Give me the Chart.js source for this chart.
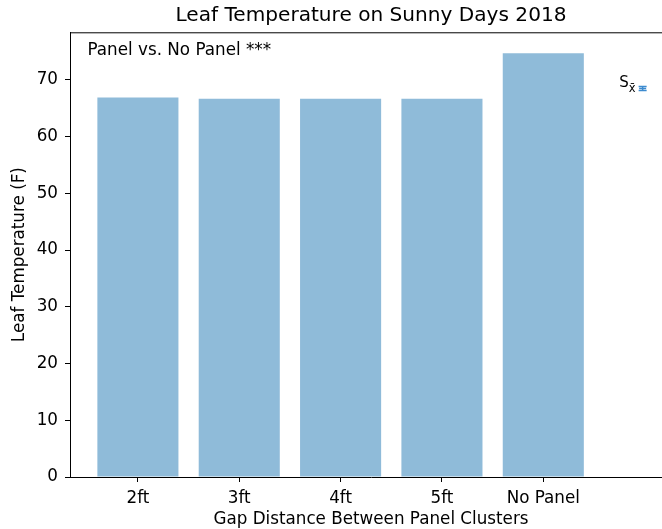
<!DOCTYPE html>
<html>
<head>
<meta charset="utf-8">
<script src="https://cdn.jsdelivr.net/npm/chart.js@4"></script>
<style>
  html, body { margin: 0; padding: 0; overflow: hidden; background: #fff; width: 662px; height: 529px; }
  #c { display: block; }
</style>
</head>
<body>
<canvas id="c" width="680" height="529"></canvas>
<script>
// ---- data ----
const categories = ['2ft', '3ft', '4ft', '5ft', 'No Panel'];
const categoryPositions = [0, 1, 2, 3, 4];
const leafTemps = [66.9, 66.7, 66.7, 66.7, 74.7];
const yTickValues = [0, 10, 20, 30, 40, 50, 60, 70];
const seLegendX = [5];
const seLegendY = [68.5];
const seLegendErr = [0.35];
const titleText = 'Leaf Temperature on Sunny Days 2018';
const xTitle = 'Gap Distance Between Panel Clusters';
const yTitle = 'Leaf Temperature (F)';
const noteText = 'Panel vs. No Panel ***';

const FONT = 'DejaVu Sans';
const TICK = 16.75;

const barPoints = categoryPositions.map((p, i) => ({ x: p, y: leafTemps[i] }));

const overlay = {
  id: 'overlay',
  afterDatasetsDraw(chart) {
    const { ctx, chartArea: a, scales: { x, y } } = chart;
    ctx.save();
    // frame (top/right spines)
    ctx.strokeStyle = '#000';
    ctx.lineWidth = 1;
    ctx.beginPath();
    ctx.moveTo(a.left, a.top + 0.5);
    ctx.lineTo(a.right, a.top + 0.5);
    ctx.lineTo(a.right, a.bottom);
    ctx.stroke();
    // title, centred over the axes
    ctx.fillStyle = '#000';
    ctx.font = '20.1px "' + FONT + '"';
    ctx.textAlign = 'center';
    ctx.textBaseline = 'alphabetic';
    ctx.fillText(titleText, (a.left + a.right) / 2, 21);
    // note text
    ctx.font = TICK + 'px "' + FONT + '"';
    ctx.textAlign = 'left';
    ctx.fillText(noteText, 87.5, 55.3);
    // SE legend errorbar
    for (let i = 0; i < seLegendX.length; i++) {
      const px = x.getPixelForValue(seLegendX[i]) - 2;
      const pTop = y.getPixelForValue(seLegendY[i] + seLegendErr[i]);
      const pBot = y.getPixelForValue(seLegendY[i] - seLegendErr[i]);
      const pMid = y.getPixelForValue(seLegendY[i]);
      ctx.strokeStyle = '#3d8bcf';
      ctx.lineWidth = 1.5;
      ctx.beginPath();
      ctx.moveTo(px, pTop); ctx.lineTo(px, pBot);
      ctx.moveTo(px - 4, pTop); ctx.lineTo(px + 4, pTop);
      ctx.moveTo(px - 4, pBot); ctx.lineTo(px + 4, pBot);
      ctx.stroke();
      ctx.fillStyle = '#3d8bcf';
      ctx.fillRect(px - 3.5, pMid - 0.75, 7, 1.5);
      // label S x-bar
      ctx.fillStyle = '#000';
      ctx.textAlign = 'right';
      const sub = 'x\u0304';
      ctx.font = '11.5px "' + FONT + '"';
      const subW = ctx.measureText(sub).width;
      ctx.fillText(sub, px - 7, pMid + 4);
      ctx.font = '15px "' + FONT + '"';
      ctx.fillText('S', px - 7 - subW, pMid - 1);
    }
    ctx.restore();
  }
};

new Chart(document.getElementById('c'), {
  type: 'bar',
  data: {
    datasets: [{
      data: barPoints,
      backgroundColor: 'rgb(143,187,217)',
      borderWidth: 0,
      barPercentage: 0.8,
      categoryPercentage: 1.0
    }]
  },
  options: {
    responsive: false,
    animation: false,
    devicePixelRatio: 1,
    layout: { padding: { left: 0, right: 8, top: 32.3, bottom: 0 } },
    plugins: {
      legend: { display: false },
      tooltip: { enabled: false },
      title: { display: false }
    },
    scales: {
      x: {
        type: 'linear',
        min: -0.67,
        max: 5.27,
        offset: false,
        afterBuildTicks(scale) { scale.ticks = categoryPositions.map(v => ({ value: v })); },
        afterFit(scale) { scale.height = 52; },
        ticks: {
          callback: (v) => categories[categoryPositions.indexOf(v)] ?? '',
          color: '#000',
          font: { family: FONT, size: TICK },
          padding: 7,
          maxRotation: 0,
          autoSkip: false
        },
        grid: { display: true, offset: false, drawOnChartArea: false, drawTicks: true, tickLength: 5, color: '#000', tickWidth: 1 },
        border: { display: true, color: '#000', width: 1 },
        title: {
          display: true, text: xTitle, color: '#000',
          font: { family: FONT, size: TICK, lineHeight: 1.2 },
          padding: { top: 0, bottom: -1 }
        }
      },
      y: {
        type: 'linear',
        min: 0,
        max: 78.4,
        afterBuildTicks(scale) { scale.ticks = yTickValues.map(v => ({ value: v })); },
        afterFit(scale) { scale.width = 70; },
        ticks: {
          color: '#000',
          font: { family: FONT, size: TICK },
          padding: 7
        },
        grid: { display: true, offset: false, drawOnChartArea: false, drawTicks: true, tickLength: 5, color: '#000', tickWidth: 1 },
        border: { display: true, color: '#000', width: 1 },
        title: {
          display: true, text: yTitle, color: '#000',
          font: { family: FONT, size: TICK, lineHeight: 1.2 },
          padding: { top: 10, bottom: 0 }
        }
      }
    }
  },
  plugins: [overlay]
});
</script>
</body>
</html>
